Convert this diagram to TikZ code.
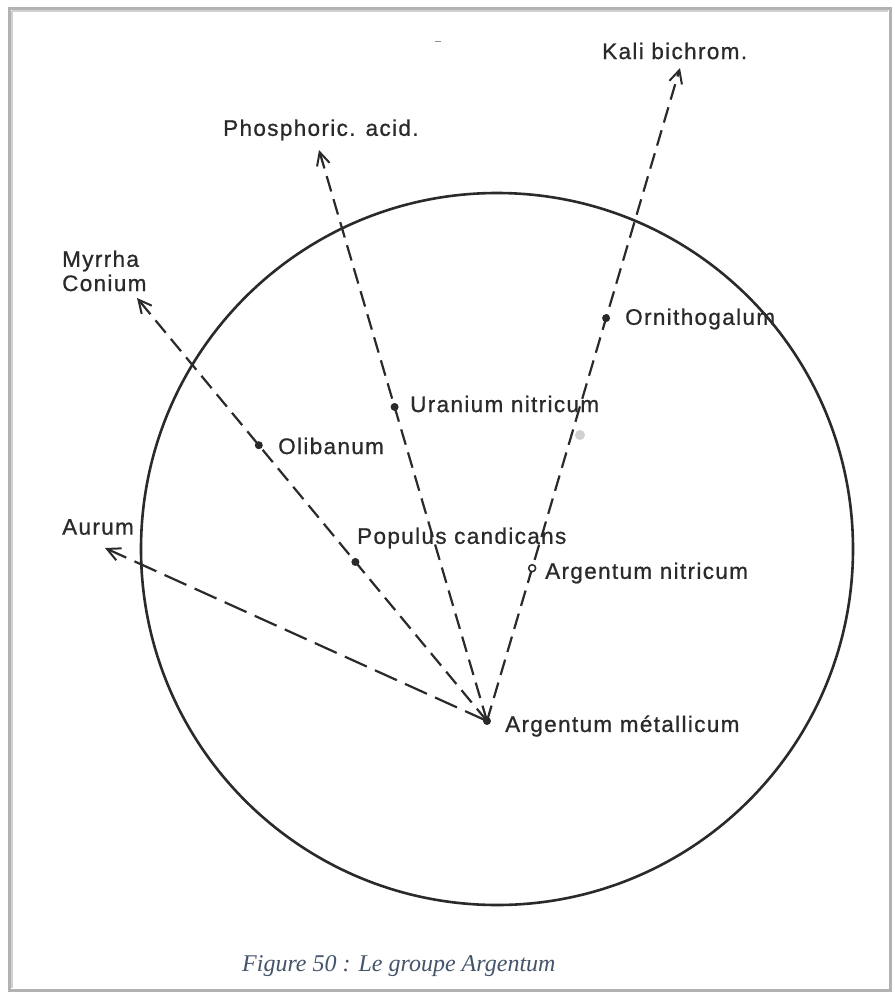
\documentclass[tikz,border=0pt]{standalone}
\usepackage{fontspec}
\setmainfont{Liberation Serif}
\newfontfamily\labfont[LetterSpace=6,FakeBold=0.8]{Liberation Sans}
\usetikzlibrary{arrows.meta,calc}
\definecolor{ink}{HTML}{2A2A2A}
\definecolor{capcol}{HTML}{44546A}
\tikzset{
  lab/.style={anchor=west,inner sep=0pt,text=ink,font=\labfont\fontsize{22.5}{26}\selectfont},
  ray/.style={draw=ink,line width=2.2pt,dash pattern=on 16pt off 8pt,-{Straight Barb[length=13pt,width=13pt,line width=2pt]}},
  longray/.style={ray,dash pattern=on 24pt off 9pt},
  dotnode/.style={circle,fill=ink,inner sep=0pt,minimum size=8pt},
  ringnode/.style={circle,draw=ink,fill=white,line width=1.5pt,inner sep=0pt,minimum size=7pt},
  ring/.style={draw=ink,line width=2.6pt},
  frame/.style={draw=black!30,line width=3pt},
}
\begin{document}
\begin{tikzpicture}[x=1pt,y=-1pt]
\useasboundingbox (0,0) rectangle (894,993);
\fill[white] (0,0) rectangle (894,993);
\draw[frame] (9,8) rectangle (890,990);
\draw[draw=black!18,line width=1.5pt] (12,11) -- (12,988);
\draw[draw=black!18,line width=1.5pt] (12,11) -- (888,11);
% scan marks
\draw[draw=black!45,line width=1pt] (435,41) -- (441,41);
\fill[black!18] (580,435) circle[radius=5];
% circle
\coordinate (C) at (497,549);
\draw[ring] (C) circle[radius=356];
% centre and tips
\coordinate (M) at (487,721);
\coordinate (Tk) at (680,68);
\coordinate (Tp) at (319,150);
\coordinate (Tm) at (137,298);
\coordinate (Ta) at (105,548);
\draw[ray] (M) -- (Tk);
\draw[ray] (M) -- (Tp);
\draw[ray] (M) -- (Tm);
\draw[longray] (M) -- (Ta);
% dots
\node[dotnode] (M0) at (M) {};
\node[dotnode] (orn) at ($(M)!0.617!(Tk)$) {};
\node[ringnode] (agn) at ($(M)!0.234!(Tk)$) {};
\node[dotnode] (ura) at ($(M)!0.550!(Tp)$) {};
\node[dotnode] (oli) at ($(M)!0.652!(Tm)$) {};
\node[dotnode] (pop) at ($(M)!0.376!(Tm)$) {};
% labels
\node[lab] (lk) at (602,51) {Kali bichrom.};
\node[lab] (lp) at (223,130) {Phosphoric. acid.};
\node[lab] (lmy) at (62,261) {Myrrha};
\node[lab] (lco) at (62,283) {Conium};
\node[lab] (lau) at (62,527) {Aurum};
\node[lab] (lol) at (278,446) {Olibanum};
\node[lab] (lur) at (410,404) {Uranium nitricum};
\node[lab] (lor) at (625,319) {Ornithogalum};
\node[lab] (lpo) at (357,538) {Populus candicans};
\node[lab] (lan) at (545,573) {Argentum nitricum};
\node[lab] (lam) at (505,726) {Argentum métallicum};
% caption
\node[anchor=west,inner sep=0pt,text=capcol,font=\itshape\fontsize{24}{28}\selectfont] (cap) at (242,966) {Figure 50 : Le groupe Argentum};
\end{tikzpicture}
\end{document}
